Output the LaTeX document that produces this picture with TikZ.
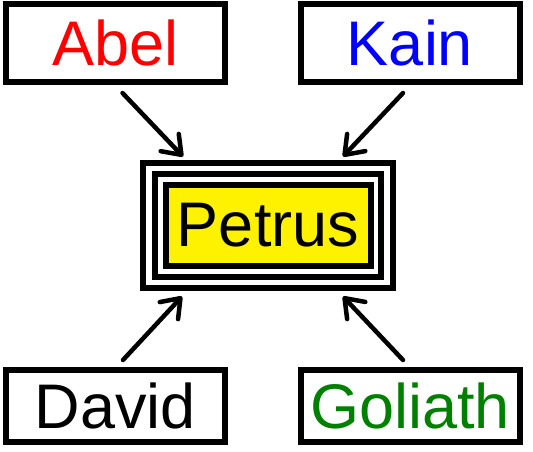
\documentclass[tikz,border=0pt]{standalone}
\usepackage{fontspec}
\setmainfont{Liberation Sans}
\usetikzlibrary{arrows.meta,fit}
\begin{document}
\begin{tikzpicture}[x=1pt,y=1pt]
        \useasboundingbox (0,0) rectangle (533,-451);
        \tikzstyle{every node}=[draw, line width=6pt, outer sep=0pt, minimum width=219pt, minimum height=78pt, font=\fontsize{63}{70}\selectfont]
        \node[text=red]               (abel)    at (115.5, -43)  {Abel};
        \node[text=blue]              (kain)    at (410,   -43)  {Kain};
        \node[minimum height=72pt]    (david)   at (115.5, -406) {David};
        \node[minimum height=72pt, text=green!50!black] (goliath) at (410, -406) {Goliath};
        \node[fill=yellow, minimum width=205pt, minimum height=81pt] (petrus) at (268, -225.5) {Petrus};
        % two more frames round petrus
        \node[fit=(petrus), inner sep=16.5pt, line width=6pt, double, double distance=5.5pt] (ring) {};
        \tikzstyle{every node}=[]
        \tikzstyle{arr}=[line width=4.5pt, line cap=round, -{Straight Barb[length=17pt, width=25pt, round]}]
        \draw[arr] ([shift={(7,-11)}]abel.south)     -- ([shift={(-85,12)}]ring.north);
        \draw[arr] ([shift={(-7,-11)}]kain.south)    -- ([shift={(75,12)}]ring.north);
        \draw[arr] ([shift={(7.5,10)}]david.north)   -- ([shift={(-86,-14)}]ring.south);
        \draw[arr] ([shift={(-7,10)}]goliath.north)  -- ([shift={(75,-14)}]ring.south);
    \end{tikzpicture}
\end{document}
